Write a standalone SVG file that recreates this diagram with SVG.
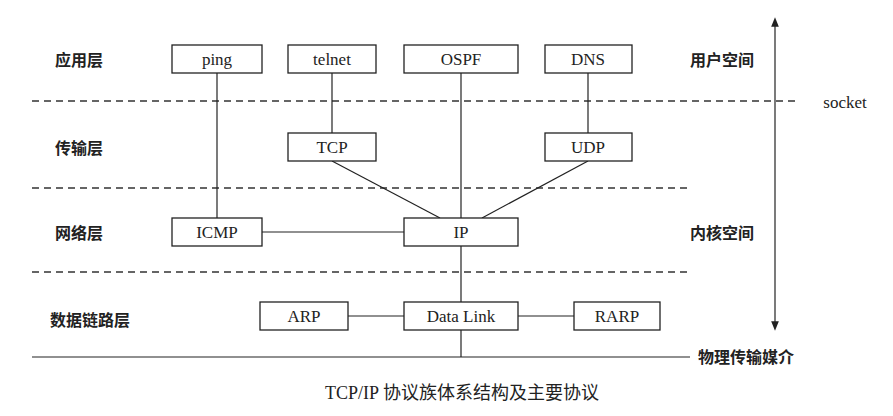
<svg xmlns="http://www.w3.org/2000/svg" width="893" height="416" viewBox="0 0 893 416">
<style>
.b{fill:#fff;stroke:#222;stroke-width:1.3}
.t{font-family:"Liberation Serif",serif;font-size:17px;fill:#222;text-anchor:middle}
.c{font-family:"Noto Sans CJK SC",sans-serif;font-size:16px;fill:#222;font-weight:bold}
.l{stroke:#222;stroke-width:1.2;fill:none}
.d{stroke:#333;stroke-width:1.3;stroke-dasharray:7,5}
</style>
<defs><marker id="a" viewBox="0 0 10 10" refX="5" refY="5" markerWidth="8" markerHeight="10" orient="auto-start-reverse"><path d="M0,1 L10,5 L0,9 Z" fill="#222"/></marker></defs>
<rect width="893" height="416" fill="#fff"/>
<g id="connectors">
<line class="d" x1="32" y1="101" x2="800" y2="101"/>
<line class="d" x1="32" y1="188" x2="690" y2="188"/>
<line class="d" x1="32" y1="272" x2="690" y2="272"/>
<line class="l" x1="32" y1="357" x2="690" y2="357"/>
<line class="l" x1="775" y1="22" x2="775" y2="326" marker-start="url(#a)" marker-end="url(#a)"/>
<line class="l" x1="217" y1="73" x2="217" y2="218"/>
<line class="l" x1="332" y1="73" x2="332" y2="133"/>
<line class="l" x1="588" y1="73" x2="588" y2="133"/>
<line class="l" x1="461" y1="73" x2="461" y2="218"/>
<line class="l" x1="332" y1="161" x2="440" y2="218"/>
<line class="l" x1="588" y1="161" x2="482" y2="218"/>
<line class="l" x1="262" y1="232" x2="404" y2="232"/>
<line class="l" x1="461" y1="246" x2="461" y2="302"/>
<line class="l" x1="348" y1="316" x2="404" y2="316"/>
<line class="l" x1="518" y1="316" x2="574" y2="316"/>
<line class="l" x1="461" y1="330" x2="461" y2="357"/>
</g>
<g id="ping"><rect class="b" x="172" y="45" width="90" height="28"/><text class="t" x="217" y="65">ping</text></g>
<g id="telnet"><rect class="b" x="288" y="45" width="88" height="28"/><text class="t" x="332" y="65">telnet</text></g>
<g id="ospf"><rect class="b" x="404" y="45" width="114" height="28"/><text class="t" x="461" y="65">OSPF</text></g>
<g id="dns"><rect class="b" x="545" y="45" width="87" height="28"/><text class="t" x="588" y="65">DNS</text></g>
<g id="tcp"><rect class="b" x="288" y="133" width="88" height="28"/><text class="t" x="332" y="153">TCP</text></g>
<g id="udp"><rect class="b" x="545" y="133" width="87" height="28"/><text class="t" x="588" y="153">UDP</text></g>
<g id="icmp"><rect class="b" x="172" y="218" width="90" height="28"/><text class="t" x="217" y="238">ICMP</text></g>
<g id="ip"><rect class="b" x="404" y="218" width="114" height="28"/><text class="t" x="461" y="238">IP</text></g>
<g id="arp"><rect class="b" x="260" y="302" width="88" height="28"/><text class="t" x="304" y="322">ARP</text></g>
<g id="datalink"><rect class="b" x="404" y="302" width="114" height="28"/><text class="t" x="461" y="322">Data Link</text></g>
<g id="rarp"><rect class="b" x="574" y="302" width="86" height="28"/><text class="t" x="617" y="322">RARP</text></g>
<g id="labels">
<text class="c" x="55" y="66">应用层</text>
<text class="c" x="55" y="154">传输层</text>
<text class="c" x="55" y="239">网络层</text>
<text class="c" x="50" y="326">数据链路层</text>
<text class="c" x="690" y="66">用户空间</text>
<text class="c" x="690" y="239">内核空间</text>
<text class="c" x="698" y="363">物理传输媒介</text>
<text class="t" x="845" y="108">socket</text>
<text x="462" y="399" style="font-family:'Liberation Serif','Noto Sans CJK SC',serif;font-size:18px;fill:#222;text-anchor:middle">TCP/IP 协议族体系结构及主要协议</text>
</g>
</svg>
